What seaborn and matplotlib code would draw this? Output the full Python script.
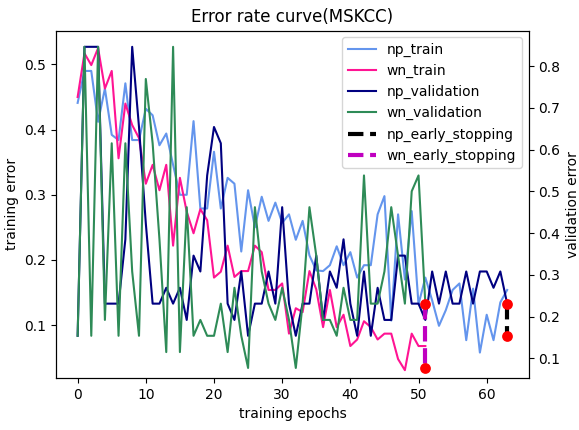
import matplotlib
matplotlib.use("Agg")
import matplotlib.pyplot as plt
import seaborn as sns


#error rates
#-----------------------------------------
np_train = [0.441, 0.49, 0.49, 0.412, 0.463, 0.392, 0.384, 0.471, 0.384, 0.384,
            0.432, 0.422, 0.376, 0.394, 0.346, 0.30, 0.30, 0.413, 0.279, 0.279,
            0.366, 0.279, 0.326, 0.317, 0.213, 0.307, 0.25, 0.297, 0.26, 0.288,
            0.257, 0.27, 0.231, 0.26, 0.207, 0.184, 0.183, 0.192, 0.221, 0.192,
            0.212, 0.173, 0.192, 0.192, 0.27, 0.298, 0.107, 0.27, 0.17, 0.275,
            0.132, 0.173, 0.138, 0.099, 0.123, 0.154, 0.164, 0.077, 0.156, 0.058,
            0.116, 0.077, 0.135, 0.154]
wn_train = [0.45, 0.517, 0.499, 0.525, 0.463, 0.49, 0.356, 0.44, 0.407, 0.387,
            0.317, 0.346, 0.307, 0.346, 0.222, 0.326, 0.274, 0.241, 0.278, 0.261,
            0.173, 0.182, 0.222, 0.174, 0.183, 0.183, 0.222, 0.212, 0.154, 0.154,
            0.164, 0.087, 0.126, 0.12, 0.183, 0.155, 0.097, 0.154, 0.097, 0.116,
            0.068, 0.078, 0.106, 0.097, 0.078, 0.087, 0.087, 0.048, 0.031, 0.087,
            0.068, 0.068]
np_validation = [0.154, 0.846, 0.846, 0.846, 0.231, 0.231, 0.231, 0.385, 0.846, 0.654,
                 0.423, 0.231, 0.231, 0.269, 0.231, 0.269, 0.192, 0.346, 0.308, 0.538,
                 0.654, 0.615, 0.231, 0.192, 0.308, 0.154, 0.231, 0.231, 0.308, 0.231,
                 0.462, 0.231, 0.154, 0.231, 0.231, 0.346, 0.192, 0.308, 0.269, 0.385,
                 0.231, 0.154, 0.308, 0.154, 0.269, 0.192, 0.192, 0.346, 0.346, 0.231,
                 0.231, 0.192, 0.308, 0.231, 0.308, 0.231, 0.231, 0.308, 0.231, 0.308,
                 0.308, 0.269, 0.308, 0.231]
wn_validation = [0.154, 0.846, 0.154, 0.846, 0.192, 0.615, 0.154, 0.615, 0.308, 0.154,
                 0.769, 0.615, 0.385, 0.115, 0.846, 0.115, 0.462, 0.154, 0.192, 0.154,
                 0.154, 0.231, 0.115, 0.269, 0.154, 0.077, 0.462, 0.308, 0.231, 0.192,
                 0.269, 0.192, 0.077, 0.231, 0.462, 0.346, 0.192, 0.192, 0.154, 0.269,
                 0.192, 0.192, 0.538, 0.231, 0.231, 0.308, 0.462, 0.346, 0.231, 0.5,
                 0.538, 0.231]

#early stopping markers (epoch, start/end of the dashed segment)
np_stop_epoch = 63
np_stop_values = [0.231, 0.154]
wn_stop_epoch = 51
wn_stop_values = [0.231, 0.077]

np_epochs = list(range(len(np_train)))
wn_epochs = list(range(len(wn_train)))


fig, ax1 = plt.subplots(figsize=(5.79, 4.30), dpi=100)
fig.subplots_adjust(left=0.097, right=0.913, top=0.929, bottom=0.121)
ax2 = ax1.twinx()

#training curves on the left axis
sns.lineplot(x=np_epochs, y=np_train, ax=ax1, color="cornflowerblue", label="np_train")
sns.lineplot(x=wn_epochs, y=wn_train, ax=ax1, color="deeppink", label="wn_train")

#validation curves on the right axis
sns.lineplot(x=np_epochs, y=np_validation, ax=ax2, color="navy", label="np_validation")
sns.lineplot(x=wn_epochs, y=wn_validation, ax=ax2, color="seagreen", label="wn_validation")

#early stopping segments
sns.lineplot(x=[np_stop_epoch] * 2, y=np_stop_values, ax=ax2, color="black",
             linestyle="--", linewidth=3, estimator=None, sort=False,
             label="np_early_stopping")
sns.lineplot(x=[wn_stop_epoch] * 2, y=wn_stop_values, ax=ax2, color="m",
             linestyle="--", linewidth=3, estimator=None, sort=False,
             label="wn_early_stopping")
sns.scatterplot(x=[np_stop_epoch] * 2 + [wn_stop_epoch] * 2,
                y=np_stop_values + wn_stop_values, ax=ax2,
                color="red", s=60, linewidth=0, zorder=5)

ax1.set_xlim(-3.15, 66.15)
ax1.set_ylim(0.019, 0.552)
ax2.set_ylim(0.053, 0.885)

ax1.set_title("Error rate curve(MSKCC)")
ax1.set_xlabel("training epochs")
ax1.set_ylabel("training error")
ax2.set_ylabel("validation error")

#one legend for both axes
h1, l1 = ax1.get_legend_handles_labels()
h2, l2 = ax2.get_legend_handles_labels()
ax1.get_legend().remove()
ax2.legend(h1 + h2, l1 + l2, loc="upper right")

fig.savefig("out.png", dpi=100)
